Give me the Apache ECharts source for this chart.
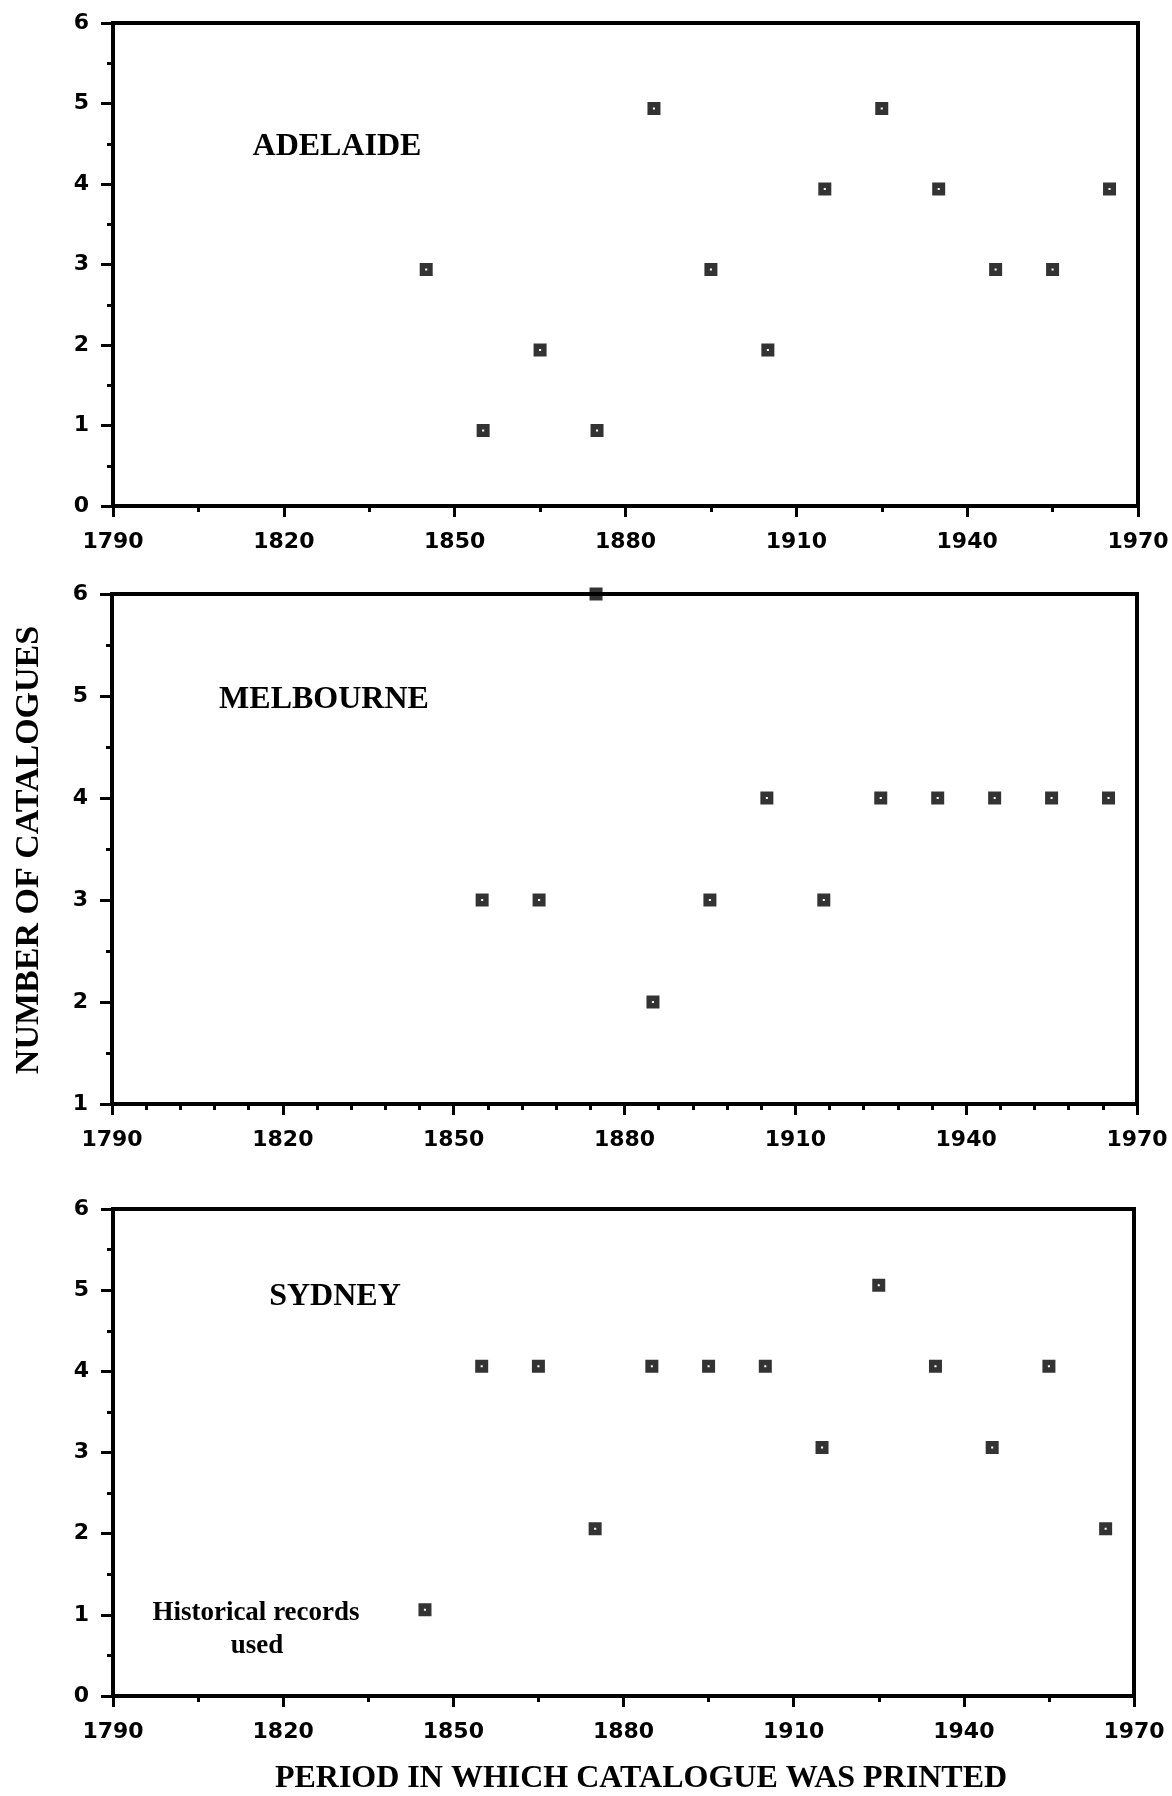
<!DOCTYPE html>
<html>
<head>
<meta charset="utf-8">
<script src="https://cdn.jsdelivr.net/npm/echarts@6/dist/echarts.min.js"></script>
<style>
  html, body { margin: 0; padding: 0; background: #fff; }
  #chart { width: 1172px; height: 1796px; }
</style>
</head>
<body>
<div id="chart"></div>
<script>
// decades (mid-point of each ten year period)
var adelaideYears = [1845, 1855, 1865, 1875, 1885, 1895, 1905, 1915, 1925, 1935, 1945, 1955, 1965];
var adelaideCounts = [3, 1, 2, 1, 5, 3, 2, 4, 5, 4, 3, 3, 4];

var melbourneYears = [1855, 1865, 1875, 1885, 1895, 1905, 1915, 1925, 1935, 1945, 1955, 1965];
var melbourneCounts = [3, 3, 6, 2, 3, 4, 3, 4, 4, 4, 4, 4];

var sydneyYears = [1845, 1855, 1865, 1875, 1885, 1895, 1905, 1915, 1925, 1935, 1945, 1955, 1965];
var sydneyCounts = [1, 4, 4, 2, 4, 4, 4, 3, 5, 4, 3, 4, 2];

var cityNames = ['ADELAIDE', 'MELBOURNE', 'SYDNEY'];
var yearMin = 1790;
var yearMax = 1970;
var yearStep = 30;

var serifFont = '"Liberation Serif"';

// square marker with a tiny hole in the middle
var markerPath = 'path://M0,0H10V10H0Z M4.2,4.2V5.8H5.8V4.2Z';

function pairs(xs, ys) {
  var out = [];
  for (var i = 0; i < xs.length; i++) {
    out.push([xs[i], ys[i]]);
  }
  return out;
}

function makeX(idx, minorSplit) {
  return {
    gridIndex: idx,
    type: 'value',
    min: yearMin,
    max: yearMax,
    interval: yearStep,
    axisLine: { lineStyle: { color: '#000', width: 4 } },
    axisTick: { length: 11, lineStyle: { color: '#000', width: 3 } },
    minorTick: { show: true, splitNumber: minorSplit, length: 6, lineStyle: { color: '#000', width: 3 } },
    splitLine: { show: false },
    axisLabel: {
      color: '#000',
      fontFamily: 'DejaVu Sans',
      fontWeight: 'bold',
      fontSize: 22,
      margin: 25,
      showMinLabel: true,
      showMaxLabel: true,
      formatter: function (v) { return String(v); }
    }
  };
}

function makeY(idx, min, max) {
  return {
    gridIndex: idx,
    type: 'value',
    min: min,
    max: max,
    interval: 1,
    axisLine: { show: true, lineStyle: { color: '#000', width: 4 } },
    axisTick: { show: true, length: 12, lineStyle: { color: '#000', width: 3 } },
    minorTick: { show: true, splitNumber: 2, length: 6, lineStyle: { color: '#000', width: 3 } },
    splitLine: { show: false },
    axisLabel: {
      color: '#000',
      fontFamily: 'DejaVu Sans',
      fontWeight: 'bold',
      fontSize: 22,
      margin: 24
    }
  };
}

function makeSeries(name, idx, data, offsetY) {
  return {
    name: name,
    type: 'scatter',
    xAxisIndex: idx,
    yAxisIndex: idx,
    data: data,
    clip: false,
    symbol: markerPath,
    symbolSize: 13,
    symbolOffset: [0, offsetY],
    itemStyle: { color: '#000' },
    silent: true
  };
}

function label(text, x, y, size, rotate) {
  return {
    type: 'text',
    x: x,
    y: y,
    rotation: rotate || 0,
    style: {
      text: text,
      fill: '#000',
      font: 'bold ' + size + 'px ' + serifFont,
      textAlign: 'center',
      textVerticalAlign: 'middle'
    }
  };
}

var chart = echarts.init(document.getElementById('chart'), null, { renderer: 'canvas' });

var option = {
  backgroundColor: '#fff',
  animation: false,
  grid: [
    { left: 113, top: 23, right: 34, height: 483, show: true, borderColor: '#000', borderWidth: 4 },
    { left: 112, top: 594, right: 35, height: 510, show: true, borderColor: '#000', borderWidth: 4 },
    { left: 113, top: 1209, right: 38, height: 487, show: true, borderColor: '#000', borderWidth: 4 }
  ],
  xAxis: [makeX(0, 2), makeX(1, 5), makeX(2, 2)],
  yAxis: [makeY(0, 0, 6), makeY(1, 1, 6), makeY(2, 0, 6)],
  series: [
    makeSeries(cityNames[0], 0, pairs(adelaideYears, adelaideCounts), 5),
    makeSeries(cityNames[1], 1, pairs(melbourneYears, melbourneCounts), 0),
    makeSeries(cityNames[2], 2, pairs(sydneyYears, sydneyCounts), -5)
  ],
  graphic: [
    label(cityNames[0], 337, 147, 32),
    label(cityNames[1], 324, 700, 32),
    label(cityNames[2], 335, 1297, 32),
    label('Historical records', 256, 1613, 27),
    label('used', 257, 1646, 27),
    label('NUMBER OF CATALOGUES', 29, 850, 34, Math.PI / 2),
    label('PERIOD IN WHICH CATALOGUE WAS PRINTED', 641, 1779, 32)
  ]
};

chart.setOption(option);
</script>
</body>
</html>
